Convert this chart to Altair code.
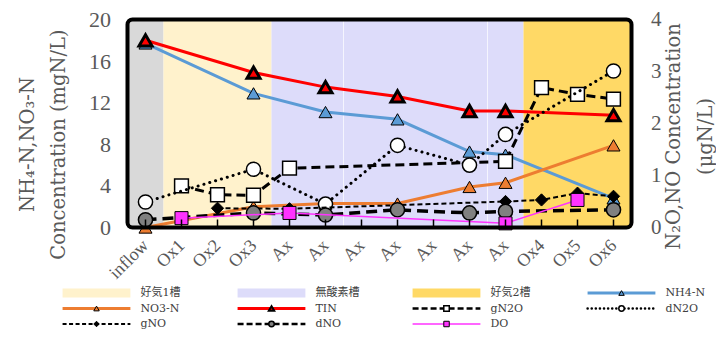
import altair as alt
import pandas as pd

# ---------------- data ----------------
categories = ["inflow", "Ox1", "Ox2", "Ox3", "Ax", "Ax", "Ax", "Ax", "Ax", "Ax", "Ax", "Ox4", "Ox5", "Ox6"]
idx = list(range(len(categories)))
N = None
# left axis (mgN/L)
nh4 = [17.7, N, N, 12.9, N, 11.1, N, 10.4, N, 7.3, 7.0, N, N, 2.8]
no3 = [0.0, N, N, 2.0, N, 2.3, N, 2.3, N, 3.9, 4.3, N, N, 7.9]
tin = [18.0, N, N, 14.9, N, 13.5, N, 12.6, N, 11.2, 11.2, N, N, 10.8]
# right axis (ugN/L)
gn2o = [N, 0.80, 0.63, 0.62, 1.14, N, N, N, N, N, 1.27, 2.69, 2.56, 2.47]
dn2o = [0.49, N, N, 1.12, N, 0.45, N, 1.58, N, 1.20, 1.79, N, N, 3.01]
gno = [N, N, 0.37, N, 0.36, N, N, N, N, N, 0.50, 0.53, 0.66, 0.60]
dno = [0.15, N, N, 0.28, N, 0.24, N, 0.34, N, 0.28, 0.31, N, N, 0.34]
do_ = [N, 0.18, N, N, 0.28, N, N, N, N, N, 0.08, N, 0.53, N]

# background zones
band_start = [-0.5, 0.5, 3.5, 10.5]
band_end = [0.5, 3.5, 10.5, 13.5]
band_kind = ["inflow", "好気1槽", "無酸素槽", "好気2槽"]
band_color = ["#d9d9d9", "#fff2cc", "#dddcfa", "#ffd966"]
separators = [5.5, 9.5]

legend_names = ["好気1槽", "無酸素槽", "好気2槽", "NH4-N", "NO3-N", "TIN",
                "gN2O", "dN2O", "gNO", "dNO", "DO"]

FONT = "Liberation Serif"
TFONT = "DejaVu Serif"
GREY = "#595959"
W, H = 504, 208

xscale = alt.Scale(domain=[-0.5, 13.5], nice=False, zero=False)
label_expr = "[" + ",".join("'%s'" % c for c in categories) + "][datum.value]"
xaxis = alt.Axis(values=idx, labelExpr=label_expr, labelAngle=315, labelAlign="right",
                 labelBaseline="middle", labelPadding=15, labelFont=FONT, labelFontSize=18,
                 labelColor=GREY, domain=False, ticks=False, grid=False, title=None)
X = alt.X("i:Q", scale=xscale, axis=xaxis)

left_scale = alt.Scale(domain=[0, 20], nice=False)
right_scale = alt.Scale(domain=[0, 4], nice=False)
left_axis = alt.Axis(values=[0, 4, 8, 12, 16, 20], orient="left", domain=False, ticks=False, grid=False,
                     labelFont=FONT, labelFontSize=22, labelColor=GREY, labelPadding=17,
                     title=["NH₄-N,NO₃-N", "Concentration (mgN/L)"], titleFont=TFONT,
                     titleFontSize=19.5, titleFontWeight="normal", titleColor=GREY, titleAngle=270,
                     titleAlign="center", titleBaseline="middle", titleLineHeight=31.5,
                     titleX=-100.5, titleY=124.5)
right_axis = alt.Axis(values=[0, 1, 2, 3, 4], orient="right", domain=False, ticks=False, grid=False,
                      labelFont=FONT, labelFontSize=21, labelColor=GREY, labelPadding=19,
                      title=["N₂O,NO Concentration", "(μgN/L)"], titleFont=TFONT,
                      titleFontSize=19.5, titleFontWeight="normal", titleColor=GREY, titleAngle=270,
                      titleAlign="center", titleBaseline="middle", titleLineHeight=32,
                      titleX=42, titleY=116.5)


def series(values, yscale, yaxis, line_kw, point_kw):
    df = pd.DataFrame({"i": idx, "v": values}).dropna()
    base = alt.Chart(df).encode(x=X, y=alt.Y("v:Q", scale=yscale, axis=yaxis))
    return [base.mark_line(**line_kw), base.mark_point(**point_kw)]


bands_df = pd.DataFrame({"i": band_start, "e": band_end, "k": band_kind})
bands = alt.Chart(bands_df).mark_rect().encode(
    x=X, x2="e:Q",
    color=alt.Color("k:N", scale=alt.Scale(domain=band_kind, range=band_color), legend=None),
)

seps = alt.Chart(pd.DataFrame({"i": separators})).mark_rule(color="white", strokeWidth=1, opacity=0.7).encode(x=X)

left_layers = []
left_layers += series(nh4, left_scale, left_axis,
                      dict(color="#5b9bd5", strokeWidth=3),
                      dict(shape="triangle-up", filled=True, fill="#5b9bd5", stroke="black", strokeWidth=1, size=170, opacity=1))
left_layers += series(no3, left_scale, left_axis,
                      dict(color="#ed7d31", strokeWidth=3),
                      dict(shape="triangle-up", filled=True, fill="#ed7d31", stroke="black", strokeWidth=1, size=170, opacity=1))
left_layers += series(tin, left_scale, left_axis,
                      dict(color="#ff0000", strokeWidth=3),
                      dict(shape="triangle-up", filled=True, fill="#ff0000", stroke="black", strokeWidth=3, size=170, opacity=1))
left = alt.layer(*left_layers)

right_layers = []
right_layers += series(gn2o, right_scale, right_axis,
                       dict(color="black", strokeWidth=3, strokeDash=[9, 5]),
                       dict(shape="square", filled=True, fill="white", stroke="black", strokeWidth=1.5, size=190, opacity=1))
right_layers += series(dn2o, right_scale, right_axis,
                       dict(color="black", strokeWidth=3, strokeDash=[0.1, 6], strokeCap="round"),
                       dict(shape="circle", filled=True, fill="white", stroke="black", strokeWidth=1.5, size=200, opacity=1))
right_layers += series(gno, right_scale, right_axis,
                       dict(color="black", strokeWidth=2, strokeDash=[5, 3]),
                       dict(shape="diamond", filled=True, fill="black", stroke="black", strokeWidth=1, size=150, opacity=1))
right_layers += series(dno, right_scale, right_axis,
                       dict(color="black", strokeWidth=3.5, strokeDash=[11, 6]),
                       dict(shape="circle", filled=True, fill="#808080", stroke="black", strokeWidth=1.5, size=200, opacity=1))
right_layers += series(do_, right_scale, right_axis,
                       dict(color="#ff33ff", strokeWidth=1.5),
                       dict(shape="square", filled=True, fill="#ff33ff", stroke="black", strokeWidth=1, size=170, opacity=1))
right = alt.layer(*right_layers)

ticks = alt.Chart(pd.DataFrame({"i": idx})).mark_rule(color="black", strokeWidth=1.5).encode(
    x=X, y=alt.value(H - 8), y2=alt.value(H))

frame_df = pd.DataFrame({"i": [band_start[0]], "e": [band_end[-1]]})
frame = alt.Chart(frame_df).mark_rect(
    fillOpacity=0, stroke="black", strokeWidth=4, strokeOpacity=1, cornerRadius=5).encode(
    x=X, x2="e:Q")

main = alt.layer(bands, seps, left, right, ticks, frame).resolve_scale(y="independent").properties(
    width=W, height=H)

# ---------------- legend ----------------
leg_df = pd.DataFrame({"name": legend_names})
leg_df["col"] = [k % 4 for k in range(len(legend_names))]
leg_df["row"] = [k // 4 + 0.5 for k in range(len(legend_names))]
leg_df["x0"] = leg_df["col"]
leg_df["x1"] = leg_df["col"] + 0.3875
leg_df["xm"] = leg_df["col"] + 0.194
leg_df["xt"] = leg_df["col"] + 0.445

lx = alt.Scale(domain=[0.371, 0.371 + W / 175.0], nice=False, zero=False)
ly = alt.Scale(domain=[0, 3], nice=False, zero=False, reverse=True)

leg_styles = {
    "好気1槽": (dict(color="#fff2cc", strokeWidth=9, strokeCap="butt"), None),
    "無酸素槽": (dict(color="#dddcfa", strokeWidth=9, strokeCap="butt"), None),
    "好気2槽": (dict(color="#ffd966", strokeWidth=9, strokeCap="butt"), None),
    "NH4-N": (dict(color="#5b9bd5", strokeWidth=3), dict(shape="triangle-up", filled=True, fill="#5b9bd5", stroke="black", strokeWidth=1, size=30, opacity=1)),
    "NO3-N": (dict(color="#ed7d31", strokeWidth=3), dict(shape="triangle-up", filled=True, fill="#ed7d31", stroke="black", strokeWidth=1, size=30, opacity=1)),
    "TIN": (dict(color="#ff0000", strokeWidth=3), dict(shape="triangle-up", filled=True, fill="#ff0000", stroke="black", strokeWidth=2, size=30, opacity=1)),
    "gN2O": (dict(color="black", strokeWidth=2.5, strokeDash=[6, 3]), dict(shape="square", filled=True, fill="white", stroke="black", strokeWidth=1.5, size=30, opacity=1)),
    "dN2O": (dict(color="black", strokeWidth=2.5, strokeDash=[0.1, 4], strokeCap="round"), dict(shape="circle", filled=True, fill="white", stroke="black", strokeWidth=1.5, size=30, opacity=1)),
    "gNO": (dict(color="black", strokeWidth=2, strokeDash=[4, 2.5]), dict(shape="diamond", filled=True, fill="black", stroke="black", strokeWidth=1, size=30, opacity=1)),
    "dNO": (dict(color="black", strokeWidth=2.5, strokeDash=[6, 3]), dict(shape="circle", filled=True, fill="#808080", stroke="black", strokeWidth=1.5, size=30, opacity=1)),
    "DO": (dict(color="#ff33ff", strokeWidth=1.5), dict(shape="square", filled=True, fill="#ff33ff", stroke="black", strokeWidth=1, size=30, opacity=1)),
}

leg_layers = []
for nm in legend_names:
    lkw, pkw = leg_styles[nm]
    b = alt.Chart(leg_df).transform_filter(alt.datum.name == nm)
    leg_layers.append(b.mark_rule(**lkw).encode(
        x=alt.X("x0:Q", scale=lx, axis=None), x2="x1:Q",
        y=alt.Y("row:Q", scale=ly, axis=None)))
    if pkw is not None:
        leg_layers.append(b.mark_point(**pkw).encode(
            x=alt.X("xm:Q", scale=lx, axis=None), y=alt.Y("row:Q", scale=ly, axis=None)))
leg_layers.append(alt.Chart(leg_df).mark_text(
    align="left", baseline="middle", font=TFONT + ", Noto Sans CJK JP", fontSize=11,
    color="#404040").encode(
    x=alt.X("xt:Q", scale=lx, axis=None), y=alt.Y("row:Q", scale=ly, axis=None), text="name:N"))

legend = alt.layer(*leg_layers).properties(width=W, height=46.5)

chart = alt.vconcat(main, legend, spacing=57.75, bounds="flush").properties(
    padding={"left": 8.5, "top": 0.5, "right": 0, "bottom": -3}, background="white"
).configure_view(strokeWidth=0)

chart.save("out.html", embed_options={"renderer": "svg", "actions": False})
